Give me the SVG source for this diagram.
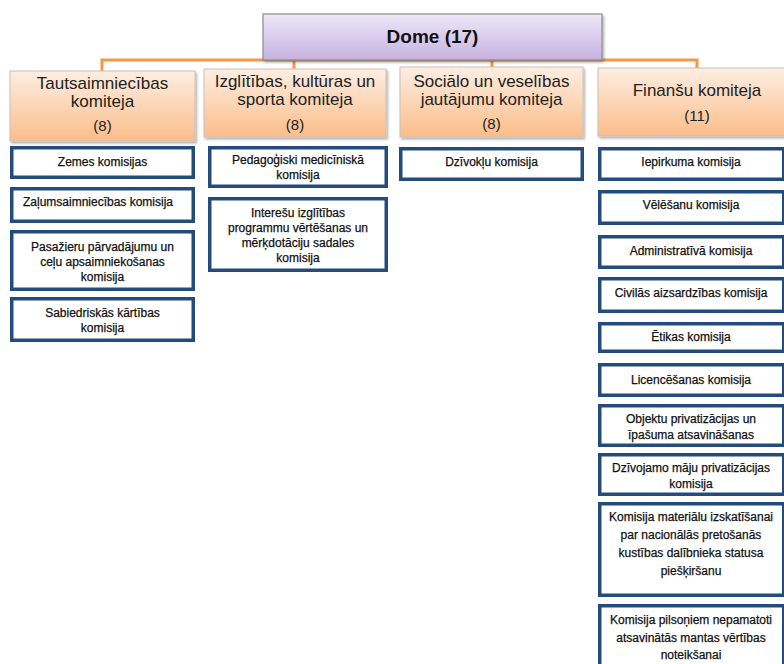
<svg xmlns="http://www.w3.org/2000/svg" width="784" height="664" viewBox="0 0 784 664">
<defs>
<linearGradient id="gDome" x1="0" y1="0" x2="0" y2="1">
<stop offset="0" stop-color="#eee8f7"/>
<stop offset="1" stop-color="#c6b2e1"/>
</linearGradient>
<linearGradient id="gCom" x1="0" y1="0" x2="0" y2="1">
<stop offset="0" stop-color="#fdeee2"/>
<stop offset="1" stop-color="#fbbd8a"/>
</linearGradient>
<filter id="sh" x="-5%" y="-5%" width="115%" height="130%">
<feDropShadow dx="1.5" dy="2" stdDeviation="1.2" flood-color="#000" flood-opacity="0.3"/>
</filter>
</defs>
<style>
.dome{fill:url(#gDome);stroke:#8a8a8a;stroke-width:1.2}
.com{fill:url(#gCom);stroke:#c9c0b8;stroke-width:1}
.sub{fill:#fff;stroke:#234b7c;stroke-width:3.5}
.conn{fill:none;stroke:#f79646;stroke-width:3}
.t{font-family:"Liberation Sans",Arial,sans-serif;text-anchor:middle}
.dt{font-size:19px;font-weight:bold;fill:#111}
.ct{font-size:17px;fill:#222}
.cn{font-size:15px;fill:#222}
.st{font-size:12px;fill:#111;stroke:#111;stroke-width:0.25}
</style>
<g id="connectors">
<path class="conn" d="M102,71 V60 H602 M294,69 V60 M492,67 V60 M602,60 H697 V68"/>
</g>
<g id="dome">
<rect class="dome" x="263" y="14" width="339" height="46" filter="url(#sh)"/>
<text class="t dt" x="432.5" y="43">Dome (17)</text>
</g>
<g id="k1">
<rect class="com" x="10" y="71" width="185" height="70" filter="url(#sh)"/>
<text class="t ct" x="102.5" y="89">Tautsaimniecības</text>
<text class="t ct" x="102.5" y="107">komiteja</text>
<text class="t cn" x="102.5" y="131">(8)</text>
</g>
<g id="k2">
<rect class="com" x="204" y="69" width="182" height="68" filter="url(#sh)"/>
<text class="t ct" x="295" y="87">Izglītības, kultūras un</text>
<text class="t ct" x="295" y="105">sporta komiteja</text>
<text class="t cn" x="295" y="130">(8)</text>
</g>
<g id="k3">
<rect class="com" x="400" y="67" width="183" height="70" filter="url(#sh)"/>
<text class="t ct" x="491.5" y="87">Sociālo un veselības</text>
<text class="t ct" x="491.5" y="105">jautājumu komiteja</text>
<text class="t cn" x="491.5" y="129">(8)</text>
</g>
<g id="k4">
<rect class="com" x="598" y="68" width="198" height="68" filter="url(#sh)"/>
<text class="t ct" x="697" y="96">Finanšu komiteja</text>
<text class="t cn" x="697" y="121">(11)</text>
</g>
<g id="s1a"><rect class="sub" x="11.75" y="147.75" width="181.5" height="29.5"/><text class="t st" x="102.5" y="166">Zemes komisijas</text></g>
<g id="s1b"><rect class="sub" x="11.75" y="188.75" width="181.5" height="32.5"/><text class="t st" x="98" y="206">Zaļumsaimniecības komisija</text></g>
<g id="s1c"><rect class="sub" x="11.75" y="231.75" width="181.5" height="57.5"/><text class="t st" x="102.5" y="251">Pasažieru pārvadājumu un</text><text class="t st" x="102.5" y="266">ceļu apsaimniekošanas</text><text class="t st" x="102.5" y="281">komisija</text></g>
<g id="s1d"><rect class="sub" x="11.75" y="298.75" width="181.5" height="41.5"/><text class="t st" x="102.5" y="317">Sabiedriskās kārtības</text><text class="t st" x="102.5" y="332">komisija</text></g>
<g id="s2a"><rect class="sub" x="209.75" y="147.75" width="176.5" height="38.5"/><text class="t st" x="298" y="164">Pedagoģiski medicīniskā</text><text class="t st" x="298" y="179">komisija</text></g>
<g id="s2b"><rect class="sub" x="209.75" y="198.75" width="176.5" height="71.5"/><text class="t st" x="298" y="217">Interešu izglītības</text><text class="t st" x="298" y="232">programmu vērtēšanas un</text><text class="t st" x="298" y="247">mērķdotāciju sadales</text><text class="t st" x="298" y="262">komisija</text></g>
<g id="s3a"><rect class="sub" x="400.75" y="148.75" width="181.5" height="30.5"/><text class="t st" x="491.5" y="166">Dzīvokļu komisija</text></g>
<g id="s4a"><rect class="sub" x="599.75" y="148.75" width="184" height="30.5"/><text class="t st" x="691" y="166">Iepirkuma komisija</text></g>
<g id="s4b"><rect class="sub" x="599.75" y="191.75" width="184" height="31.5"/><text class="t st" x="691" y="209">Vēlēšanu komisija</text></g>
<g id="s4c"><rect class="sub" x="599.75" y="236.75" width="184" height="30.5"/><text class="t st" x="691" y="255">Administratīvā komisija</text></g>
<g id="s4d"><rect class="sub" x="599.75" y="278.75" width="184" height="32.5"/><text class="t st" x="691" y="297">Civilās aizsardzības komisija</text></g>
<g id="s4e"><rect class="sub" x="599.75" y="323.75" width="184" height="27.5"/><text class="t st" x="691" y="341">Ētikas komisija</text></g>
<g id="s4f"><rect class="sub" x="599.75" y="364.75" width="184" height="30.5"/><text class="t st" x="691" y="384">Licencēšanas komisija</text></g>
<g id="s4g"><rect class="sub" x="599.75" y="405.75" width="184" height="39.5"/><text class="t st" x="691" y="423">Objektu privatizācijas un</text><text class="t st" x="691" y="439">īpašuma atsavināšanas</text></g>
<g id="s4h"><rect class="sub" x="599.75" y="454.75" width="184" height="39.5"/><text class="t st" x="691" y="472">Dzīvojamo māju privatizācijas</text><text class="t st" x="691" y="488">komisija</text></g>
<g id="s4i"><rect class="sub" x="599.75" y="503.75" width="184" height="91.5"/><text class="t st" x="691" y="521">Komisija materiālu izskatīšanai</text><text class="t st" x="691" y="539">par nacionālās pretošanās</text><text class="t st" x="691" y="557">kustības dalībnieka statusa</text><text class="t st" x="691" y="575">piešķiršanu</text></g>
<g id="s4j"><rect class="sub" x="599.75" y="605.75" width="184" height="70"/><text class="t st" x="691" y="624">Komisija pilsoņiem nepamatoti</text><text class="t st" x="691" y="642">atsavinātās mantas vērtības</text><text class="t st" x="691" y="659">noteikšanai</text></g>
</svg>
